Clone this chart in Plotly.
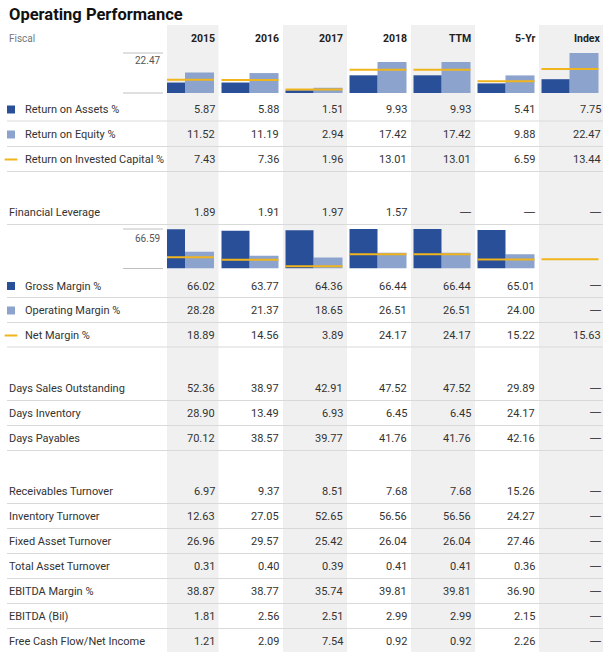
import plotly.graph_objects as go

# ---- data ----
columns = ["2015", "2016", "2017", "2018", "TTM", "5-Yr", "Index"]

roa = [5.87, 5.88, 1.51, 9.93, 9.93, 5.41, 7.75]
roe = [11.52, 11.19, 2.94, 17.42, 17.42, 9.88, 22.47]
roic = [7.43, 7.36, 1.96, 13.01, 13.01, 6.59, 13.44]
fin_leverage = [1.89, 1.91, 1.97, 1.57, None, None, None]
gross_margin = [66.02, 63.77, 64.36, 66.44, 66.44, 65.01, None]
operating_margin = [28.28, 21.37, 18.65, 26.51, 26.51, 24.00, None]
net_margin = [18.89, 14.56, 3.89, 24.17, 24.17, 15.22, 15.63]
days_sales = [52.36, 38.97, 42.91, 47.52, 47.52, 29.89, None]
days_inventory = [28.90, 13.49, 6.93, 6.45, 6.45, 24.17, None]
days_payables = [70.12, 38.57, 39.77, 41.76, 41.76, 42.16, None]
receivables_turnover = [6.97, 9.37, 8.51, 7.68, 7.68, 15.26, None]
inventory_turnover = [12.63, 27.05, 52.65, 56.56, 56.56, 24.27, None]
fixed_asset_turnover = [26.96, 29.57, 25.42, 26.04, 26.04, 27.46, None]
total_asset_turnover = [0.31, 0.40, 0.39, 0.41, 0.41, 0.36, None]
ebitda_margin = [38.87, 38.77, 35.74, 39.81, 39.81, 36.90, None]
ebitda_bil = [1.81, 2.56, 2.51, 2.99, 2.99, 2.15, None]
fcf_net_income = [1.21, 2.09, 7.54, 0.92, 0.92, 2.26, None]

returns_max = 22.47
margins_max = 66.59

# ---- layout constants (pixels) ----
W, H = 609, 652
DARK = "#294f99"
LIGHT = "#8ba3cd"
GOLD = "#f0b41c"
TXT = "#333333"
FONT = "Roboto, sans-serif"

col_right = [218.5, 283, 347, 411, 475, 539, 603]
col_w = 64
text_x = [216.5, 280.5, 344.5, 408.5, 472.5, 536.5, 603]
clip_left = 167

# rows: (label, values, y, legend marker)
rows = [
    ("Return on Assets %", roa, 109.5, "dark"),
    ("Return on Equity %", roe, 134.5, "light"),
    ("Return on Invested Capital %", roic, 159.5, "line"),
    ("Financial Leverage", fin_leverage, 212.5, None),
    ("Gross Margin %", gross_margin, 286, "dark"),
    ("Operating Margin %", operating_margin, 310.5, "light"),
    ("Net Margin %", net_margin, 335.5, "line"),
    ("Days Sales Outstanding", days_sales, 388.7, None),
    ("Days Inventory", days_inventory, 413.3, None),
    ("Days Payables", days_payables, 438.5, None),
    ("Receivables Turnover", receivables_turnover, 491.7, None),
    ("Inventory Turnover", inventory_turnover, 516.7, None),
    ("Fixed Asset Turnover", fixed_asset_turnover, 541.7, None),
    ("Total Asset Turnover", total_asset_turnover, 566.7, None),
    ("EBITDA Margin %", ebitda_margin, 591.7, None),
    ("EBITDA (Bil)", ebitda_bil, 616.7, None),
    ("Free Cash Flow/Net Income", fcf_net_income, 641.7, None),
]
sep_y = [121, 146.5, 171.5, 224.5, 297.5, 322.5, 347, 400.5, 425.5, 450.5,
         503.5, 528.5, 553.5, 578.5, 603.5, 628.5]

chart1 = (53, 93)     # top, bottom in px
chart2 = (229, 268.5)

fig = go.Figure()

# ---- mini bar charts ----
dark_x = [r - col_w + 2.5 + 14 for r in col_right]
light_x = [r - col_w + 30.5 + 14.5 for r in col_right]
line_x, line_y1, line_y2 = [], [], []
for i, r in enumerate(col_right):
    left = r - col_w + 2.5
    right = r - col_w + 59.5
    line_x += [left, right, None]
    line_y1 += [roic[i], roic[i], None]
    line_y2 += [net_margin[i], net_margin[i], None]

for ax, top_vals, low_vals, line_vals in [("2", roa, roe, line_y1),
                                           ("3", gross_margin, operating_margin, line_y2)]:
    fig.add_trace(go.Bar(x=light_x, y=low_vals, width=29, marker_color=LIGHT,
                         marker_line_width=0, xaxis="x" + ax, yaxis="y" + ax))
    fig.add_trace(go.Bar(x=dark_x, y=top_vals, width=28, marker_color=DARK,
                         marker_line_width=0, xaxis="x" + ax, yaxis="y" + ax))
    fig.add_trace(go.Scatter(x=line_x, y=line_vals, mode="lines",
                             line=dict(color=GOLD, width=2),
                             xaxis="x" + ax, yaxis="y" + ax))

# ---- legend glyphs ----
for label, vals, y, mk in rows:
    if mk in ("dark", "light"):
        fig.add_trace(go.Scatter(x=[11], y=[y], mode="markers",
                                 marker=dict(symbol="square", size=8,
                                             color=DARK if mk == "dark" else LIGHT)))
    elif mk == "line":
        fig.add_trace(go.Scatter(x=[11], y=[y], mode="markers",
                                 marker=dict(symbol="line-ew", size=9,
                                             line=dict(color=GOLD, width=2))))

# ---- shapes: column shading, separators, scale lines ----
shapes = []
for i in (0, 2, 4, 6):
    shapes.append(dict(type="rect", xref="x", yref="y", layer="below",
                       x0=max(col_right[i] - col_w, clip_left), x1=col_right[i],
                       y0=25, y1=H, fillcolor="#f0f0f0", line_width=0))
for y in sep_y:
    shapes.append(dict(type="line", xref="x", yref="y", x0=7, x1=603, y0=y, y1=y,
                       line=dict(color="#d9d9d9", width=1.2)))
for top, bottom in (chart1, chart2):
    for y in (top, bottom):
        shapes.append(dict(type="line", xref="x", yref="y", x0=123, x1=163,
                           y0=y, y1=y, line=dict(color="#c0c0c0", width=1)))

# ---- text ----
ann = [dict(x=7, y=14, text="<b>Operating Performance</b>", xanchor="left",
            font=dict(size=16.5, color="#111")),
       dict(x=7, y=38, text="Fiscal", xanchor="left", font=dict(size=10, color="#777")),
       dict(x=162, y=60, text=f"{returns_max:.2f}", xanchor="right",
            font=dict(size=10, color="#555")),
       dict(x=162, y=238, text=f"{margins_max:.2f}", xanchor="right",
            font=dict(size=10, color="#555"))]
for i, c in enumerate(columns):
    ann.append(dict(x=text_x[i], y=38, text=f"<b>{c}</b>", xanchor="right",
                    font=dict(size=10.5, color="#222")))
for label, vals, y, mk in rows:
    ann.append(dict(x=23 if mk else 7, y=y, text=label, xanchor="left",
                    font=dict(size=11, color=TXT)))
    for i, v in enumerate(vals):
        if v is None:
            ann.append(dict(x=text_x[i], y=y - 2, text="—", xanchor="right",
                            font=dict(size=11, color="#222", family="Liberation Sans")))
        else:
            ann.append(dict(x=text_x[i], y=y, text=f"{v:.2f}", xanchor="right",
                            font=dict(size=11, color=TXT)))
for a in ann:
    a.update(xref="x", yref="y", showarrow=False, yanchor="middle")

hidden = dict(visible=False, fixedrange=True)
fig.update_layout(
    width=W, height=H, margin=dict(l=0, r=0, t=0, b=0),
    paper_bgcolor="white", plot_bgcolor="rgba(0,0,0,0)",
    showlegend=False, barmode="overlay", font=dict(family=FONT),
    shapes=shapes, annotations=ann,
    xaxis=dict(range=[0, W], domain=[0, 1], **hidden),
    yaxis=dict(range=[H, 0], domain=[0, 1], **hidden),
    xaxis2=dict(range=[clip_left, W], domain=[clip_left / W, 1], **hidden),
    yaxis2=dict(range=[0, returns_max], domain=[1 - chart1[1] / H, 1 - chart1[0] / H], **hidden),
    xaxis3=dict(range=[clip_left, W], domain=[clip_left / W, 1], **hidden),
    yaxis3=dict(range=[0, margins_max], domain=[1 - chart2[1] / H, 1 - chart2[0] / H], **hidden),
)

fig.write_html("out.html", config={"displayModeBar": False},
               post_script="document.body.style.margin='0';")
